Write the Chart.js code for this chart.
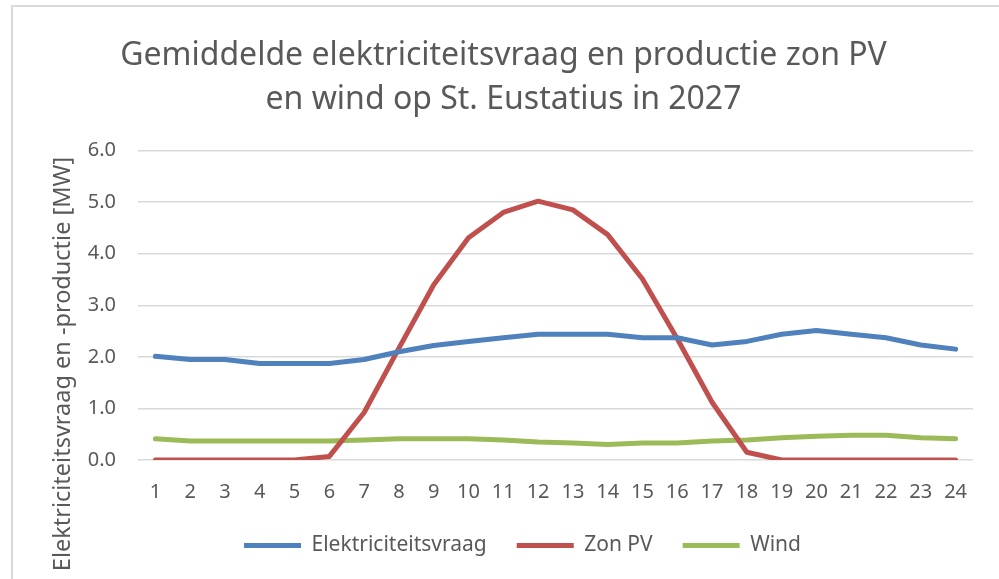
<!DOCTYPE html>
<html>
<head>
<meta charset="utf-8">
<script src="https://cdn.jsdelivr.net/npm/chart.js@4/dist/chart.umd.min.js"></script>
<style>
  html, body { margin: 0; padding: 0; background: #ffffff; }
  #wrap { position: relative; width: 999px; height: 579px; }
</style>
</head>
<body>
<div id="wrap"><canvas id="c" width="999" height="579"></canvas></div>
<script>
const hours = ['1','2','3','4','5','6','7','8','9','10','11','12','13','14','15','16','17','18','19','20','21','22','23','24'];
const vraag = [2.01,1.95,1.95,1.87,1.87,1.87,1.95,2.10,2.22,2.30,2.37,2.44,2.44,2.44,2.37,2.37,2.23,2.30,2.44,2.51,2.44,2.37,2.23,2.15];
const zonPV = [0,0,0,0,0,0.07,0.92,2.17,3.40,4.31,4.80,5.02,4.85,4.37,3.51,2.35,1.12,0.15,0,0,0,0,0,0];
const wind  = [0.41,0.37,0.37,0.37,0.37,0.37,0.39,0.41,0.41,0.41,0.39,0.35,0.33,0.30,0.33,0.33,0.37,0.39,0.43,0.46,0.48,0.48,0.43,0.41];
const seriesNames = ['Elektriciteitsvraag','Zon PV','Wind'];
const titleLines = ['Gemiddelde elektriciteitsvraag en productie zon PV','en wind op St. Eustatius in 2027'];
const yAxisTitle = 'Elektriciteitsvraag en -productie [MW]';

const TEXT = '#595959';
const FONT = "'Noto Sans', 'Open Sans', sans-serif";

const frame = {
  id: 'frame',
  afterLayout(chart) {
    if (chart.legend) {
      chart.legend.left += 19;
      chart.legend.right += 19;
    }
  },
  beforeDraw(chart) {
    const ctx = chart.ctx;
    ctx.save();
    ctx.fillStyle = '#ffffff';
    ctx.fillRect(0, 0, chart.width, chart.height);
    ctx.strokeStyle = '#d9d9d9';
    ctx.lineWidth = 2;
    ctx.beginPath();
    ctx.moveTo(12, chart.height);
    ctx.lineTo(12, 6);
    ctx.lineTo(chart.width, 6);
    ctx.stroke();
    ctx.restore();
  },
  afterDraw(chart) {
    const ctx = chart.ctx;
    ctx.save();
    ctx.translate(63, 364);
    ctx.rotate(-Math.PI / 2);
    ctx.fillStyle = TEXT;
    ctx.font = "23.5px " + FONT;
    ctx.textAlign = 'center';
    ctx.textBaseline = 'middle';
    ctx.fillText(yAxisTitle, 0, 0);
    ctx.restore();
  }
};

const colors = ['#4f81bd', '#c0504d', '#9bbb59'];
const mk = (i, data) => ({
  label: seriesNames[i],
  data: data,
  borderColor: colors[i],
  backgroundColor: colors[i],
  borderWidth: 5,
  borderCapStyle: 'round',
  borderJoinStyle: 'round',
  pointRadius: 0,
  pointHoverRadius: 0,
  tension: 0,
  fill: false
});

new Chart(document.getElementById('c'), {
  type: 'line',
  data: {
    labels: hours,
    datasets: [mk(0, vraag), mk(1, zonPV), mk(2, wind)]
  },
  options: {
    responsive: false,
    animation: false,
    layout: { padding: { left: 34, right: 26, top: 0, bottom: 13 } },
    plugins: {
      title: {
        display: true,
        text: titleLines,
        color: TEXT,
        font: { family: FONT, size: 32, weight: 'normal', lineHeight: 1.4 },
        padding: { top: 33, bottom: 28 }
      },
      legend: {
        display: true,
        position: 'bottom',
        labels: {
          color: TEXT,
          font: { family: FONT, size: 21 },
          boxWidth: 57,
          boxHeight: 5,
          padding: 30,
          generateLabels(chart) {
            return chart.data.datasets.map((ds, i) => ({
              text: ds.label,
              fillStyle: ds.borderColor,
              strokeStyle: ds.borderColor,
              lineWidth: 0,
              fontColor: TEXT,
              datasetIndex: i,
              hidden: false
            }));
          }
        }
      },
      tooltip: { enabled: false }
    },
    scales: {
      x: {
        offset: true,
        grid: { display: false, drawTicks: false },
        border: { display: false },
        ticks: { color: TEXT, font: { family: FONT, size: 20 }, padding: 20, maxRotation: 0, autoSkip: false },
        afterFit(scale) { scale.height = 45; }
      },
      y: {
        min: 0,
        max: 6,
        grid: { color: '#d9d9d9', lineWidth: 1.5, drawTicks: false },
        border: { display: false },
        ticks: {
          stepSize: 1,
          color: TEXT,
          font: { family: FONT, size: 20 },
          padding: 22,
          callback: (v) => Number(v).toFixed(1)
        },
        afterFit(scale) { scale.width = 104; }
      }
    }
  },
  plugins: [frame]
});
</script>
</body>
</html>
